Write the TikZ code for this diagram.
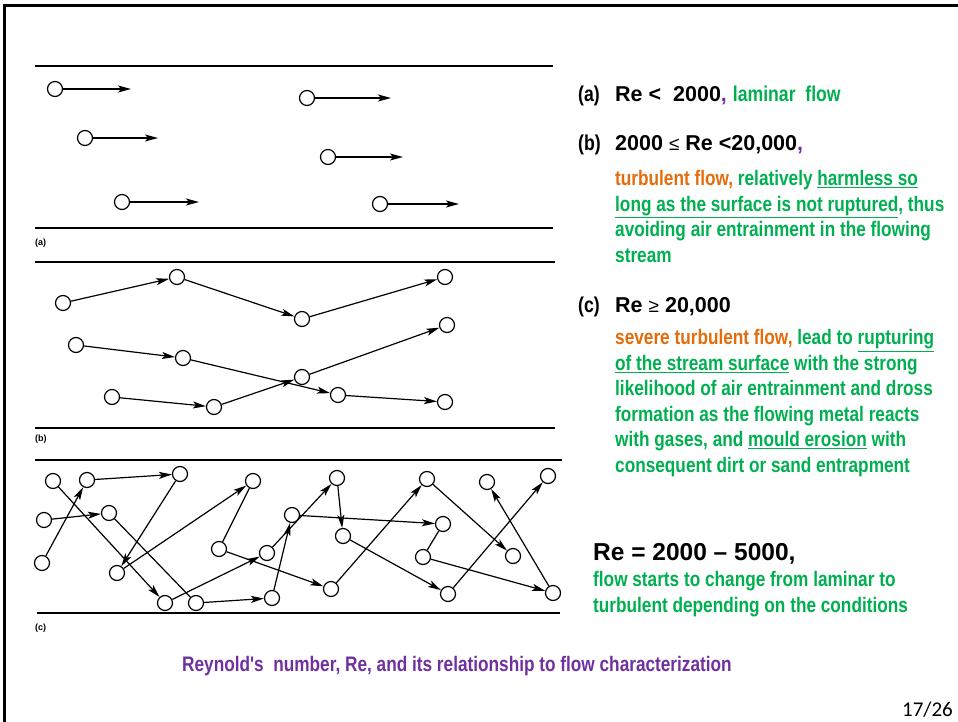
\documentclass[tikz,border=0pt]{standalone}
\usepackage{fontspec}
\setmainfont{Liberation Sans}
\newfontfamily\estrecha{Liberation Sans}[FakeStretch=0.82]
\newfontfamily\pagina{Carlito}
\usetikzlibrary{arrows.meta}
\definecolor{verde}{RGB}{0,176,80}
\definecolor{naranja}{RGB}{228,108,10}
\definecolor{morado}{RGB}{112,48,160}
\tikzset{
  particula/.style={circle, draw, fill=white, line width=1.2pt, minimum size=15pt, inner sep=0pt},
  flecha/.style={line width=1.2pt, -{Stealth[length=13pt,width=7pt,inset=3pt]}},
  tramo/.style={line width=1.2pt},
  pared/.style={line width=1.6pt},
  rotulo/.style={anchor=base west, inner sep=0pt, font=\fontsize{9}{10}\selectfont\bfseries},
  encabezado/.style={anchor=base west, inner sep=0pt, font=\fontsize{21.5}{26}\selectfont\bfseries},
  parrafo/.style={anchor=north west, align=left, inner sep=0pt, text=verde,
    font=\estrecha\fontsize{21}{25.5}\selectfont\bfseries},
}
\newcommand{\signo}[1]{{\mdseries\fontsize{19}{20}\selectfont #1}}
\begin{document}
\begin{tikzpicture}[x=1pt, y=-1pt]
	\useasboundingbox (0,0) rectangle (958,722);
	% Marco de la diapositiva
	\draw[line width=3pt] (4.5,722) -- (4.5,5.5) -- (958,5.5);
	
	% Paredes de los tres canales
	\draw[pared] (35,66) -- (553,66);
	\draw[pared] (35,228) -- (553,228);
	\draw[pared] (35,262) -- (555,262);
	\draw[pared] (35,428) -- (555,428);
	\draw[pared] (35,460) -- (562,460);
	\draw[pared] (37,613) -- (560,613);
	\node[rotulo] (la) at (35,245) {(a)};
	\node[rotulo] (lb) at (35,441) {(b)};
	\node[rotulo] (lc) at (35,630) {(c)};
	
	% (a) flujo laminar
	\foreach \n/\x/\y/\l in {a1/55/89/76, a2/307/98/84, a3/85/138/73,
	                          a4/328/157/75, a5/122/202/77, a6/380/204/79} {
		\node[particula] (\n) at (\x,\y) {};
		\coordinate (\n t) at (\x+\l,\y);
		\draw[flecha] (\n) -- (\n t);
	}
	
	% (b) flujo turbulento
	\foreach \n/\x/\y in {b1/63/303, b2/177/277, b3/302/319, b4/445/277,
	                      b5/76/345, b6/183/358, b7/338/395, b8/445/402,
	                      b9/112/397, b10/214/407, b11/302/377, b12/447/325}
		\node[particula] (\n) at (\x,\y) {};
	\draw[flecha] (b1) -- (b2);
	\draw[flecha] (b2) -- (b3);
	\draw[flecha] (b3) -- (b4);
	\draw[flecha] (b5) -- (b6);
	\draw[flecha] (b6) -- (b7);
	\draw[flecha] (b7) -- (b8);
	\draw[flecha] (b9) -- (b10);
	\draw[flecha] (b10) -- (b11);
	\draw[flecha] (b11) -- (b12);
	
	% (c) flujo muy turbulento
	\foreach \n/\x/\y in {c1/53/481, c2/87/480, c3/180/474, c4/44/520, c5/109/513,
	                      c6/253/481, c7/42/563, c8/292/515, c9/219/549, c10/267/553,
	                      c11/117/573, c12/165/603, c13/196/603, c14/272/598,
	                      c15/337/478, c16/343/536, c17/427/479, c18/443/524,
	                      c19/423/557, c20/487/482, c21/548/476, c22/513/556,
	                      c23/331/589, c24/448/594, c25/553/593}
		\node[particula] (\n) at (\x,\y) {};
	\draw[flecha] (c7) -- (c2);
	\draw[flecha] (c2) -- (c3);
	\draw[flecha] (c4) -- (c5);
	\draw[flecha] (c1) -- (c12);
	\draw[flecha] (c3) -- (c11);
	\draw[flecha] (c11) -- (c6);
	\draw[tramo] (c5) -- (c13);
	\draw[flecha] (c12) -- (c10);
	\draw[flecha] (c13) -- (c14);
	\draw[flecha] (c14) -- (c8);
	\draw[tramo] (c9) -- (c6);
	\draw[flecha] (c9) -- (c23);
	\draw[flecha] (c10) -- (c15);
	\draw[flecha] (c8) -- (c18);
	\draw[flecha] (c15) -- (c16);
	\draw[flecha] (c16) -- (c24);
	\draw[flecha] (c23) -- (c17);
	\draw[flecha] (c17) -- (c22);
	\draw[tramo] (c18) -- (c19);
	\draw[flecha] (c19) -- (c25);
	\draw[flecha] (c24) -- (c21);
	\draw[flecha] (c25) -- (c20);
	
	% Textos de la derecha
	\node[encabezado] (ta) at (578,102) {\estrecha (a)};
	\node[encabezado] (ra) at (615,102) {Re <\ \ 2000{\color{morado},}\ {\estrecha\color{verde}laminar\ \ flow}};
	\node[encabezado] (tb) at (578,151) {\estrecha (b)};
	\node[encabezado] (rb) at (615,151) {2000 \signo{≤} Re <20,000{\color{morado},}};
	\node[parrafo] (pb) at (615,170.5) {{\color{naranja}turbulent flow,} relatively \underline{harmless so}\\
		\underline{long as the surface is not ruptured}, thus\\
		avoiding air entrainment in the flowing\\
		stream};
	\node[encabezado] (tc) at (578,312) {\estrecha (c)};
	\node[encabezado] (rc) at (615,312) {Re \signo{≥} 20,000};
	\node[parrafo] (pc) at (615,329.5) {{\color{naranja}severe turbulent flow,} lead to \underline{rupturing}\\
		\underline{of the stream surface} with the strong\\
		likelihood of air entrainment and dross\\
		formation as the flowing metal reacts\\
		with gases, and \underline{mould erosion} with\\
		consequent dirt or sand entrapment};
	\node[encabezado, font=\fontsize{24.5}{29}\selectfont\bfseries] (rt) at (593,560) {Re = 2000 – 5000,};
	\node[parrafo] (pt) at (593,571.5) {flow starts to change from laminar to\\
		turbulent depending on the conditions};
	
	% Pie de la figura
	\node[anchor=base west, inner sep=0pt, text=morado, font=\estrecha\fontsize{21}{25}\selectfont\bfseries]
		(pie) at (182,671) {Reynold's\ \ number, Re, and its relationship to flow characterization};
	\node[anchor=base east, inner sep=0pt, font=\pagina\fontsize{21}{25}\selectfont] (num) at (953,716) {17/26};
\end{tikzpicture}
\end{document}
